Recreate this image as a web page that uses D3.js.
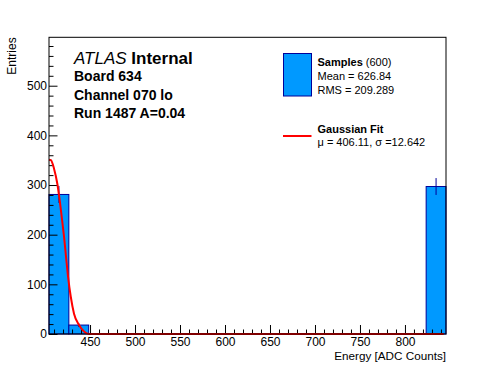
<!DOCTYPE html>
<html>
<head>
<meta charset="utf-8">
<script src="https://cdn.jsdelivr.net/npm/d3@7"></script>
<style>
  body { margin: 0; background: #fff; }
  svg { font-family: "Liberation Sans", Arial, Helvetica, sans-serif; }
</style>
</head>
<body>
<svg id="chart" width="496" height="372"></svg>
<script>
// histogram: 20 equal bins between binLow and binHigh
const binLow = 404.4,
      binHigh = 845.6;
const binCounts = [281, 18, 0, 0, 0, 0, 0, 0, 0, 0, 0, 0, 0, 0, 0, 0, 0, 0, 0, 297];
const binErrors = [17, 4, 0, 0, 0, 0, 0, 0, 0, 0, 0, 0, 0, 0, 0, 0, 0, 0, 0, 17];

// gaussian fit curve
const fitEnergy = [404.4, 406.5, 410.0, 413.7, 416.3, 418.6, 421.1, 423.3, 425.6, 428.6, 432.2, 437.8, 443.3, 448.9, 460, 843];
const fitEntries = [351, 350, 333, 302, 269, 235, 196, 156, 115, 75, 41, 18, 5, 0, 0, 0];

const xMajorTicks = [450, 500, 550, 600, 650, 700, 750, 800];
const yMajorTicks = [0, 100, 200, 300, 400, 500];

const headerLines = ["Board 634", "Channel 070 lo", "Run 1487 A=0.04"];

(function() {
  const left = 49, right = 446, top = 37.3, bottom = 334;
  const svg = d3.select('#chart');

  const x = d3.scaleLinear().domain([binLow, binHigh]).range([left, right]);
  const y = d3.scaleLinear().domain([0, 597.5]).range([bottom, top]);

  const binWidth = (binHigh - binLow) / binCounts.length;
  const bins = binCounts.map((c, i) => ({
    x0: binLow + i * binWidth,
    x1: binLow + (i + 1) * binWidth,
    count: c,
    err: binErrors[i]
  }));

  // bars
  svg.append('g').selectAll('rect')
      .data(bins.filter(d => d.count > 0))
    .enter().append('rect')
      .attr('x', d => x(d.x0))
      .attr('y', d => y(d.count))
      .attr('width', d => x(d.x1) - x(d.x0))
      .attr('height', d => y(0) - y(d.count))
      .attr('fill', '#0099ff')
      .attr('stroke', '#000099')
      .attr('stroke-width', 1);

  // error bars
  svg.append('g').selectAll('line')
      .data(bins.filter(d => d.count > 0))
    .enter().append('line')
      .attr('x1', d => x((d.x0 + d.x1) / 2))
      .attr('x2', d => x((d.x0 + d.x1) / 2))
      .attr('y1', d => y(d.count - d.err))
      .attr('y2', d => y(d.count + d.err))
      .attr('stroke', '#000099');

  // axes - ticks drawn inward like ROOT
  const xMinor = d3.range(410, 845, 10).filter(v => v % 50 !== 0);
  const yMinor = d3.range(20, 597, 20).filter(v => v % 100 !== 0);

  svg.append('g')
      .attr('transform', `translate(0,${bottom})`)
      .call(d3.axisBottom(x).tickValues(xMinor).tickSize(-4.5).tickFormat(''))
      .call(g => g.select('.domain').remove());
  svg.append('g')
      .attr('transform', `translate(0,${bottom})`)
      .call(d3.axisBottom(x).tickValues(xMajorTicks).tickSize(-9).tickPadding(3.5).tickFormat(d3.format('d')))
      .call(g => g.select('.domain').remove())
      .call(g => g.selectAll('text').attr('font-size', 12).attr('font-family', null).attr('fill', '#000'));

  svg.append('g')
      .attr('transform', `translate(${left},0)`)
      .call(d3.axisLeft(y).tickValues(yMinor).tickSize(-4.5).tickFormat(''))
      .call(g => g.select('.domain').remove());
  svg.append('g')
      .attr('transform', `translate(${left},0)`)
      .call(d3.axisLeft(y).tickValues(yMajorTicks).tickSize(-8.5).tickPadding(2).tickFormat(d3.format('d')))
      .call(g => g.select('.domain').remove())
      .call(g => g.selectAll('text').attr('font-size', 12).attr('font-family', null).attr('fill', '#000'));

  // gaussian fit curve
  const fitPts = fitEnergy.map((e, i) => [e, fitEntries[i]]);
  svg.append('path')
      .datum(fitPts)
      .attr('d', d3.line().x(d => x(d[0])).y(d => y(d[1])).curve(d3.curveMonotoneX))
      .attr('fill', 'none')
      .attr('stroke', '#ff0000')
      .attr('stroke-width', 2);

  // frame
  svg.append('rect')
      .attr('x', left).attr('y', top)
      .attr('width', right - left).attr('height', bottom - top)
      .attr('fill', 'none').attr('stroke', '#000');

  // axis titles
  svg.append('text')
      .attr('x', right).attr('y', 359.5)
      .attr('text-anchor', 'end')
      .attr('font-size', 11.7)
      .text('Energy [ADC Counts]');
  svg.append('text')
      .attr('transform', `translate(16,${top}) rotate(-90)`)
      .attr('text-anchor', 'end')
      .attr('font-size', 12)
      .text('Entries');

  // ATLAS label
  const atlas = svg.append('text').attr('x', 74).attr('y', 63.5).attr('font-size', 17);
  atlas.append('tspan').attr('font-style', 'italic').text('ATLAS');
  atlas.append('tspan').attr('font-weight', 'bold').text(' Internal');

  svg.append('g').selectAll('text')
      .data(headerLines)
    .enter().append('text')
      .attr('x', 74)
      .attr('y', (d, i) => 81 + i * 18.7)
      .attr('font-size', 14)
      .attr('font-weight', 'bold')
      .text(d => d);

  // legend
  const lg = svg.append('g');
  lg.append('rect')
      .attr('x', 283.5).attr('y', 53.5).attr('width', 28).attr('height', 42.5)
      .attr('fill', '#0099ff').attr('stroke', '#000099');
  const s = lg.append('text').attr('x', 317.5).attr('y', 66).attr('font-size', 11);
  s.append('tspan').attr('font-weight', 'bold').text('Samples');
  s.append('tspan').text(' (600)');
  lg.append('text').attr('x', 317.5).attr('y', 80).attr('font-size', 11).text('Mean = 626.84');
  lg.append('text').attr('x', 317.5).attr('y', 94).attr('font-size', 11).text('RMS = 209.289');

  lg.append('line')
      .attr('x1', 283).attr('x2', 311.5).attr('y1', 136).attr('y2', 136)
      .attr('stroke', '#ff0000').attr('stroke-width', 2);
  lg.append('text').attr('x', 317.5).attr('y', 133).attr('font-size', 11)
      .attr('font-weight', 'bold').text('Gaussian Fit');
  lg.append('text').attr('x', 317.5).attr('y', 146).attr('font-size', 11)
      .text('μ = 406.11, σ =12.642');
})();
</script>
</body>
</html>
